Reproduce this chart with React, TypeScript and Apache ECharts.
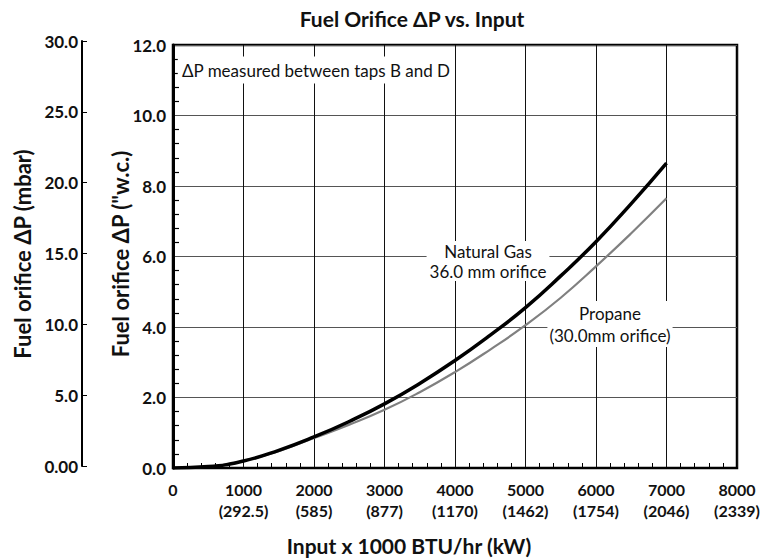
import React, { useEffect, useRef } from "react";
import * as echarts from "echarts";

const inputs = [0, 500, 1000, 1500, 2000, 2500, 3000, 3500, 4000, 4500, 5000, 5500, 6000, 6500, 7000];
const naturalGas = [0, 0.04, 0.2, 0.5, 0.88, 1.32, 1.82, 2.4, 3.05, 3.77, 4.55, 5.45, 6.42, 7.5, 8.65];
const propane = [0, 0.04, 0.2, 0.48, 0.85, 1.23, 1.65, 2.15, 2.72, 3.36, 4.05, 4.83, 5.72, 6.66, 7.65];
const xTicks = [0, 1000, 2000, 3000, 4000, 5000, 6000, 7000, 8000];
const xTickKw = ["", "292.5", "585", "877", "1170", "1462", "1754", "2046", "2339"];

const FONT = "Lato";

export default function App() {
  const ref = useRef<HTMLDivElement>(null);
  useEffect(() => {
    if (!ref.current) return;
    const chart = echarts.init(ref.current, undefined, { renderer: "svg" });
    const txt = (o: any) => ({
      type: "text",
      z: 1,
      ...o,
      style: {
        fontFamily: FONT,
        fill: "#111",
        align: "center",
        verticalAlign: "middle",
        textAlign: "center",
        textVerticalAlign: "middle",
        ...o.style,
      },
    });
    chart.setOption({
      animation: false,
      backgroundColor: "#fff",
      grid: [
        { left: 173, right: 28, top: 45, bottom: 91, show: true, borderColor: "#000", borderWidth: 2.5 },
        { left: 82, width: 1, top: 41, bottom: 93 },
      ],
      xAxis: [
        {
          gridIndex: 0,
          type: "value",
          min: 0,
          max: 8000,
          interval: 1000,
          axisLine: { show: true, lineStyle: { color: "#000", width: 2 } },
          axisTick: { show: false, inside: true },
          minorTick: { show: true, splitNumber: 5, length: 5, lineStyle: { color: "#000", width: 1 } },
          splitLine: { show: true, lineStyle: { color: "#111", width: 1 } },
          axisLabel: {
            margin: 11,
            fontFamily: FONT,
            fontWeight: "bold",
            fontSize: 16,
            lineHeight: 21,
            color: "#111",
            formatter: (v: number) => {
              const i = xTicks.indexOf(v);
              return i <= 0 ? String(v) : `${v}\n(${xTickKw[i]})`;
            },
          },
        },
        { gridIndex: 1, type: "value", show: false, min: 0, max: 1 },
      ],
      yAxis: [
        {
          gridIndex: 0,
          type: "value",
          min: 0,
          max: 12,
          interval: 2,
          axisLine: { show: true, lineStyle: { color: "#000", width: 3 } },
          axisTick: { show: false, inside: true },
          minorTick: { show: true, splitNumber: 5, length: 6, lineStyle: { color: "#000", width: 1.2 } },
          splitLine: { show: true, lineStyle: { color: "#555", width: 1.2 } },
          axisLabel: {
            margin: 7,
            fontFamily: FONT,
            fontWeight: "bold",
            fontSize: 17,
            color: "#111",
            formatter: (v: number) => v.toFixed(1),
          },
        },
        {
          gridIndex: 1,
          type: "value",
          position: "left",
          min: 0,
          max: 30,
          interval: 5,
          axisLine: { show: true, lineStyle: { color: "#000", width: 2 } },
          axisTick: { show: true, inside: true, length: 5, lineStyle: { color: "#000", width: 1 } },
          splitLine: { show: false },
          axisLabel: {
            margin: 4,
            fontFamily: FONT,
            fontWeight: "bold",
            fontSize: 17,
            color: "#111",
            formatter: (v: number) => (v === 0 ? "0.00" : v.toFixed(1)),
          },
        },
      ],
      series: [
        {
          name: "Natural Gas",
          type: "line",
          xAxisIndex: 0,
          yAxisIndex: 0,
          smooth: 0.5,
          showSymbol: false,
          lineStyle: { color: "#000", width: 3.5 },
          data: inputs.map((x, i) => [x, naturalGas[i]]),
          z: 3,
        },
        {
          name: "Propane",
          type: "line",
          xAxisIndex: 0,
          yAxisIndex: 0,
          smooth: 0.5,
          showSymbol: false,
          lineStyle: { color: "#808080", width: 2.2 },
          data: inputs.map((x, i) => [x, propane[i]]),
          z: 2,
        },
      ],
      graphic: [
        txt({ x: 412, y: 18, style: { text: "Fuel Orifice ΔP vs. Input", fontSize: 21, fontWeight: "bold" } }),
        txt({ x: 409, y: 545, style: { text: "Input x 1000 BTU/hr (kW)", fontSize: 21, fontWeight: "bold" } }),
        txt({ x: 22, y: 254, rotation: Math.PI / 2, style: { text: "Fuel orifice ΔP (mbar)", fontSize: 22, fontWeight: "bold" } }),
        txt({ x: 120, y: 254, rotation: Math.PI / 2, style: { text: "Fuel orifice ΔP (\"w.c.)", fontSize: 22, fontWeight: "bold" } }),
        txt({
          x: 316,
          y: 70,
          style: { text: "ΔP measured between taps B and D", fontSize: 17, backgroundColor: "#fff", padding: [5, 4] },
        }),
        txt({
          x: 488,
          y: 261,
          style: { text: "Natural Gas\n36.0 mm orifice", fontSize: 17, lineHeight: 20, backgroundColor: "#fff", padding: [0, 3] },
        }),
        txt({
          x: 610,
          y: 324,
          style: { text: "Propane\n(30.0mm orifice)", fontSize: 17, lineHeight: 22, backgroundColor: "#fff", padding: [1, 2] },
        }),
      ],
    });
    return () => chart.dispose();
  }, []);
  return <div ref={ref} style={{ position: "fixed", left: 0, top: 0, width: 765, height: 559 }} />;
}
